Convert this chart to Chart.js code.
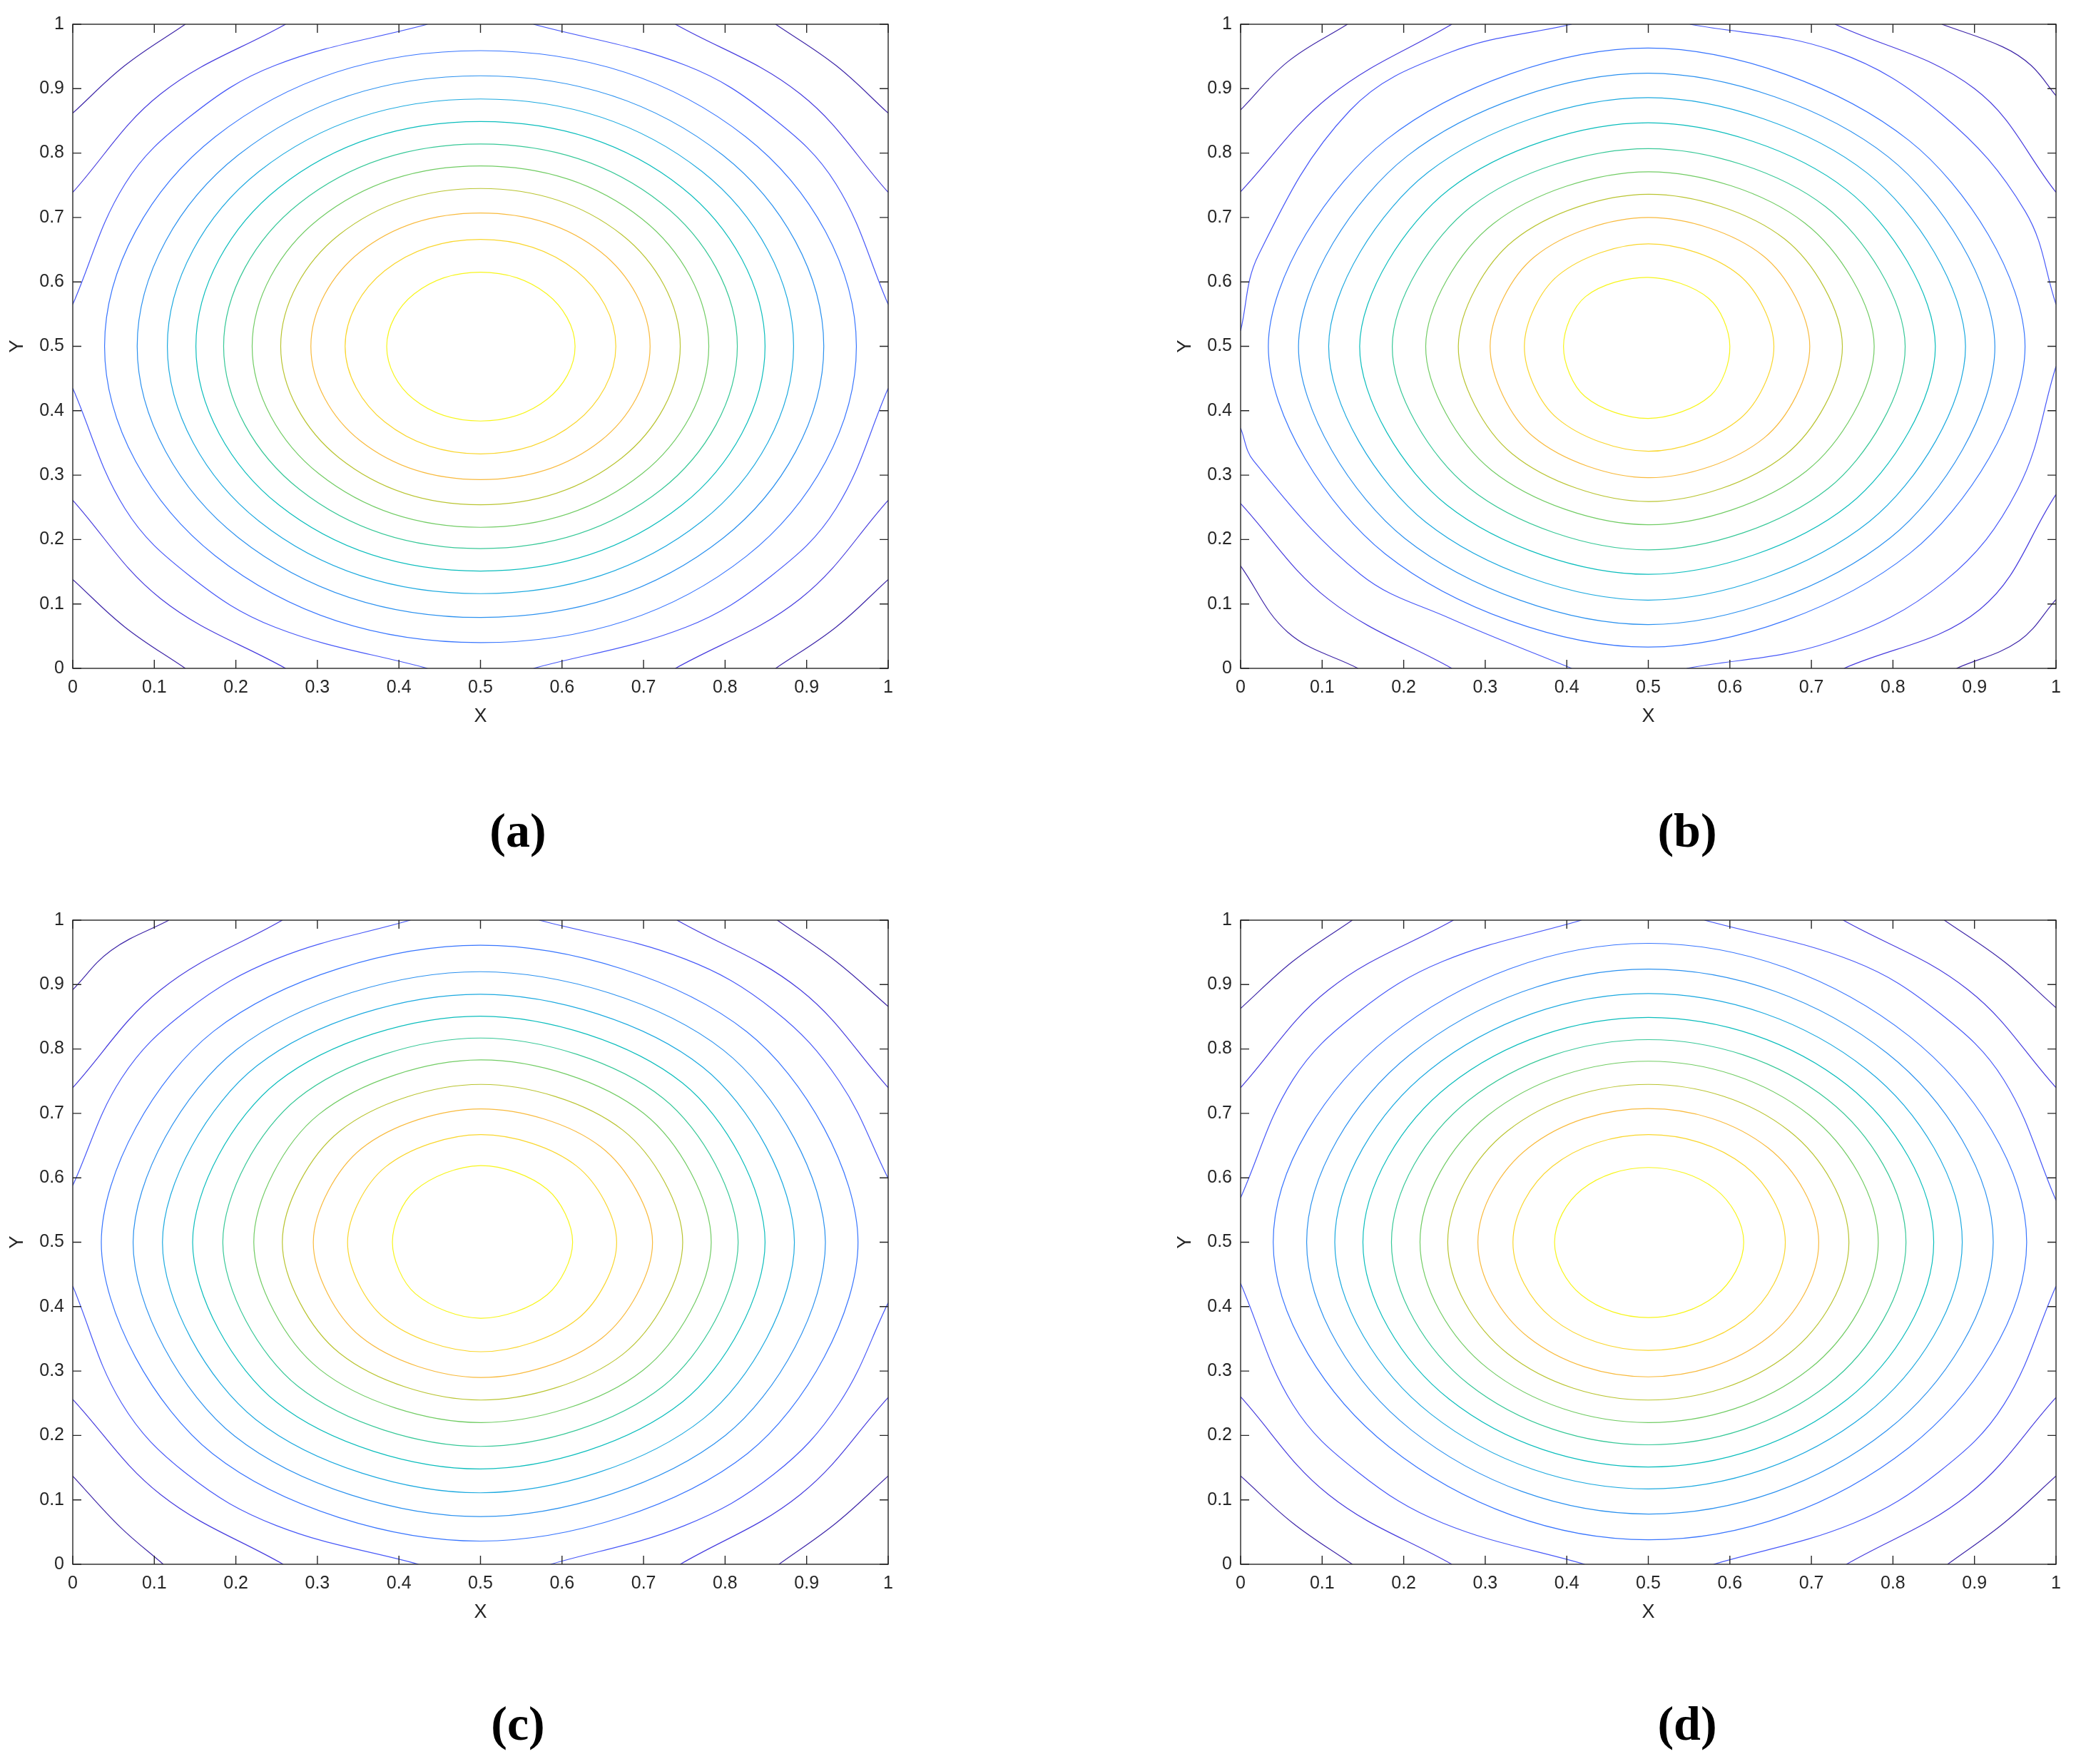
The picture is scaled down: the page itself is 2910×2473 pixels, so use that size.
<!DOCTYPE html>
<html>
<head>
<meta charset="utf-8">
<script src="https://cdn.jsdelivr.net/npm/chart.js@4.4.1/dist/chart.umd.min.js"></script>
<style>
  html, body { margin: 0; padding: 0; background: #fff; }
  body { width: 2910px; height: 2473px; position: relative; overflow: hidden; }
  canvas { position: absolute; }
  .cap { position: absolute; font-family: 'Liberation Serif', serif; font-weight: bold; font-size: 68px;
         color: #000; transform: translate(-50%, -50%); white-space: nowrap; }
</style>
</head>
<body>
<canvas id="panelA" width="1270" height="1050" style="left:0px;top:0px"></canvas>
<canvas id="panelB" width="1270" height="1050" style="left:1637px;top:0px"></canvas>
<canvas id="panelC" width="1270" height="1050" style="left:0px;top:1256px"></canvas>
<canvas id="panelD" width="1270" height="1050" style="left:1637px;top:1256px"></canvas>
<div class="cap" style="left:726px;top:1164px">(a)</div>
<div class="cap" style="left:2365px;top:1164px">(b)</div>
<div class="cap" style="left:726px;top:2416px">(c)</div>
<div class="cap" style="left:2365px;top:2416px">(d)</div>
<script>
// axis ticks (same on both axes)
const tickValues = [0, 0.1, 0.2, 0.3, 0.4, 0.5, 0.6, 0.7, 0.8, 0.9, 1];
const tickLabels = ['0', '0.1', '0.2', '0.3', '0.4', '0.5', '0.6', '0.7', '0.8', '0.9', '1'];

// closed contours: distance from (0.5, 0.5) read along these directions (degrees)
const rayAngles = [0, 45, 90, 135, 180, 225, 270, 315];

// contour level 1 (centre, highest) .. 13 (corners, lowest)
const levelColors = ['#f7f51b', '#f9d62d', '#f8ba3d', '#b9c431', '#71cc64', '#37c897', '#0bbdbc',
                     '#1ca9df', '#2b91ef', '#3875fe', '#4758f8', '#463bde', '#3e26a8'];

// (a) rings 1..10: [E, NE, N, NW, W, SW, S, SE]
const ringsA = [
  [0.116, 0.115, 0.115, 0.115, 0.115, 0.116, 0.116, 0.116],
  [0.166, 0.166, 0.166, 0.166, 0.166, 0.166, 0.167, 0.166],
  [0.208, 0.208, 0.207, 0.208, 0.208, 0.208, 0.207, 0.208],
  [0.245, 0.245, 0.245, 0.245, 0.245, 0.245, 0.246, 0.245],
  [0.280, 0.280, 0.280, 0.280, 0.280, 0.280, 0.281, 0.280],
  [0.315, 0.314, 0.314, 0.314, 0.315, 0.314, 0.314, 0.314],
  [0.349, 0.349, 0.349, 0.349, 0.349, 0.349, 0.349, 0.349],
  [0.384, 0.384, 0.384, 0.384, 0.384, 0.384, 0.384, 0.384],
  [0.421, 0.420, 0.420, 0.420, 0.421, 0.420, 0.421, 0.421],
  [0.461, 0.460, 0.459, 0.460, 0.461, 0.460, 0.460, 0.461]
];
// (a) contours cut by the frame: [level, x, y, x, y, ...]
const arcsA = [
  [11, 0, 0.565, 0.064, 0.752, 0.1435, 0.8565, 0.248, 0.936, 0.435, 1],
  [11, 0.565, 1, 0.752, 0.936, 0.8565, 0.8565, 0.936, 0.752, 1, 0.565],
  [11, 1, 0.435, 0.936, 0.248, 0.8565, 0.1435, 0.752, 0.064, 0.565, 0],
  [11, 0.435, 0, 0.248, 0.064, 0.1435, 0.1435, 0.064, 0.248, 0, 0.435],
  [12, 0, 0.739, 0.108, 0.892, 0.261, 1],
  [12, 0.739, 1, 0.892, 0.892, 1, 0.739],
  [12, 1, 0.261, 0.892, 0.108, 0.739, 0],
  [12, 0.261, 0, 0.108, 0.108, 0, 0.261],
  [13, 0, 0.862, 0.064, 0.936, 0.138, 1],
  [13, 0.862, 1, 0.936, 0.936, 1, 0.862],
  [13, 1, 0.138, 0.936, 0.064, 0.862, 0],
  [13, 0.138, 0, 0.064, 0.064, 0, 0.138]
];

// (b)
const ringsB = [
  [0.100, 0.105, 0.107, 0.109, 0.104, 0.110, 0.112, 0.108],
  [0.154, 0.157, 0.159, 0.156, 0.152, 0.158, 0.163, 0.159],
  [0.198, 0.199, 0.200, 0.197, 0.194, 0.199, 0.204, 0.201],
  [0.238, 0.236, 0.236, 0.233, 0.233, 0.236, 0.241, 0.238],
  [0.277, 0.271, 0.271, 0.269, 0.273, 0.272, 0.277, 0.274],
  [0.315, 0.307, 0.307, 0.307, 0.314, 0.311, 0.316, 0.312],
  [0.352, 0.344, 0.347, 0.345, 0.354, 0.349, 0.354, 0.348],
  [0.389, 0.380, 0.386, 0.382, 0.392, 0.386, 0.394, 0.384],
  [0.425, 0.416, 0.424, 0.418, 0.429, 0.422, 0.432, 0.420],
  [0.462, 0.452, 0.463, 0.454, 0.466, 0.456, 0.467, 0.454]
];
const arcsB = [
  [11, 0, 0.524, 0.022, 0.642, 0.134, 0.866, 0.256, 0.956, 0.406, 1],
  [11, 0.551, 1, 0.729, 0.958, 0.86, 0.86, 0.962, 0.71, 1, 0.565],
  [11, 1, 0.469, 0.953, 0.278, 0.863, 0.135, 0.723, 0.041, 0.547, 0],
  [11, 0.406, 0, 0.256, 0.078, 0.147, 0.146, 0.016, 0.322, 0, 0.373],
  [12, 0, 0.740, 0.110, 0.889, 0.259, 1],
  [12, 0.729, 1, 0.900, 0.900, 1, 0.739],
  [12, 1, 0.270, 0.907, 0.092, 0.740, 0],
  [12, 0.259, 0, 0.108, 0.107, 0, 0.256],
  [13, 0, 0.867, 0.058, 0.942, 0.131, 1],
  [13, 0.860, 1, 0.9345, 0.965, 0.9695, 0.936, 1, 0.889],
  [13, 1, 0.107, 0.955, 0.043, 0.878, 0],
  [13, 0.144, 0, 0.058, 0.056, 0, 0.159]
];

// (c)
const ringsC = [
  [0.113, 0.116, 0.119, 0.1135, 0.108, 0.113, 0.118, 0.1155],
  [0.167, 0.167, 0.167, 0.165, 0.163, 0.1665, 0.170, 0.1685],
  [0.211, 0.209, 0.207, 0.206, 0.205, 0.2075, 0.210, 0.2105],
  [0.248, 0.2465, 0.245, 0.244, 0.243, 0.244, 0.245, 0.2465],
  [0.283, 0.283, 0.283, 0.2805, 0.278, 0.279, 0.280, 0.2815],
  [0.316, 0.3165, 0.317, 0.3165, 0.316, 0.3165, 0.317, 0.3165],
  [0.349, 0.350, 0.351, 0.352, 0.353, 0.3525, 0.352, 0.3505],
  [0.385, 0.385, 0.385, 0.3875, 0.390, 0.3895, 0.389, 0.387],
  [0.423, 0.4215, 0.420, 0.423, 0.426, 0.426, 0.426, 0.4245],
  [0.463, 0.462, 0.461, 0.463, 0.465, 0.4645, 0.464, 0.4635]
];
const arcsC = [
  [11, 0, 0.588, 0.06, 0.755, 0.14, 0.86, 0.25, 0.94, 0.414, 1],
  [11, 0.572, 1, 0.75, 0.94, 0.86, 0.86, 0.94, 0.75, 1, 0.599],
  [11, 1, 0.406, 0.94, 0.25, 0.86, 0.14, 0.75, 0.06, 0.586, 0],
  [11, 0.424, 0, 0.25, 0.06, 0.14, 0.14, 0.06, 0.25, 0, 0.432],
  [12, 0, 0.740, 0.108, 0.892, 0.257, 1],
  [12, 0.741, 1, 0.892, 0.892, 1, 0.740],
  [12, 1, 0.259, 0.892, 0.108, 0.745, 0],
  [12, 0.258, 0, 0.108, 0.108, 0, 0.256],
  [13, 0, 0.892, 0.047, 0.953, 0.118, 1],
  [13, 0.864, 1, 0.936, 0.936, 1, 0.866],
  [13, 1, 0.137, 0.936, 0.064, 0.866, 0],
  [13, 0.111, 0, 0.058, 0.058, 0, 0.137]
];

// (d)
const ringsD = [
  [0.117, 0.1165, 0.116, 0.1155, 0.115, 0.116, 0.117, 0.117],
  [0.168, 0.1675, 0.167, 0.1665, 0.166, 0.167, 0.168, 0.168],
  [0.209, 0.2074, 0.2075, 0.2076, 0.209, 0.2084, 0.209, 0.2084],
  [0.246, 0.2443, 0.245, 0.2443, 0.246, 0.2443, 0.245, 0.2443],
  [0.282, 0.2792, 0.281, 0.2783, 0.280, 0.2778, 0.280, 0.2788],
  [0.316, 0.3121, 0.3145, 0.3116, 0.315, 0.3116, 0.3145, 0.3121],
  [0.350, 0.345, 0.349, 0.345, 0.350, 0.345, 0.349, 0.345],
  [0.385, 0.379, 0.386, 0.3787, 0.3845, 0.3772, 0.383, 0.3775],
  [0.423, 0.4146, 0.424, 0.4126, 0.419, 0.4117, 0.422, 0.4136],
  [0.464, 0.4524, 0.464, 0.4505, 0.460, 0.4495, 0.462, 0.4514]
];
const arcsD = [
  [11, 0, 0.569, 0.064, 0.752, 0.1435, 0.8565, 0.248, 0.936, 0.418, 1],
  [11, 0.569, 1, 0.752, 0.936, 0.8565, 0.8565, 0.936, 0.752, 1, 0.565],
  [11, 1, 0.432, 0.936, 0.248, 0.8565, 0.1435, 0.752, 0.064, 0.58, 0],
  [11, 0.422, 0, 0.248, 0.064, 0.1435, 0.1435, 0.064, 0.248, 0, 0.436],
  [12, 0, 0.740, 0.108, 0.892, 0.261, 1],
  [12, 0.739, 1, 0.892, 0.892, 1, 0.740],
  [12, 1, 0.259, 0.892, 0.108, 0.743, 0],
  [12, 0.259, 0, 0.108, 0.108, 0, 0.260],
  [13, 0, 0.863, 0.064, 0.936, 0.137, 1],
  [13, 0.863, 1, 0.936, 0.936, 1, 0.864],
  [13, 1, 0.137, 0.936, 0.064, 0.867, 0],
  [13, 0.137, 0, 0.064, 0.064, 0, 0.137]
];

function ringPoints(radii) {
  return radii.map((r, i) => {
    const a = rayAngles[i] * Math.PI / 180;
    return { x: 0.5 + r * Math.cos(a), y: 0.5 + r * Math.sin(a) };
  });
}

function arcPoints(arc) {
  const pts = [];
  for (let i = 1; i < arc.length; i += 2) pts.push({ x: arc[i], y: arc[i + 1] });
  return pts;
}

// lets a line dataset join its last point back to the first one smoothly
const closeRings = {
  id: 'closeRings',
  afterDatasetsUpdate(chart) {
    chart.data.datasets.forEach((ds, i) => {
      if (!ds.closed) return;
      const line = chart.getDatasetMeta(i).dataset;
      if (!line) return;
      line._loop = true;
      line._fullLoop = true;
      line._pointsUpdated = false;
      line._segments = undefined;
      line._path = undefined;
      line.updateControlPoints(chart.chartArea, 'x');
    });
  }
};

// Octave style frame: box on all four sides, ticks pointing inwards
const octaveBox = {
  id: 'octaveBox',
  afterDraw(chart) {
    const { ctx, chartArea: a } = chart;
    const x = chart.scales.x, y = chart.scales.y;
    ctx.save();
    ctx.strokeStyle = '#262626';
    ctx.lineWidth = 1.4;
    ctx.strokeRect(a.left, a.top, a.right - a.left, a.bottom - a.top);
    ctx.beginPath();
    tickValues.forEach(v => {
      const px = x.getPixelForValue(v);
      const py = y.getPixelForValue(v);
      ctx.moveTo(px, a.bottom); ctx.lineTo(px, a.bottom - 12);
      ctx.moveTo(px, a.top); ctx.lineTo(px, a.top + 12);
      ctx.moveTo(a.left, py); ctx.lineTo(a.left + 12, py);
      ctx.moveTo(a.right, py); ctx.lineTo(a.right - 12, py);
    });
    ctx.stroke();
    ctx.restore();
  }
};

function axis(title, pos) {
  const bottom = pos === 'bottom';
  return {
    type: 'linear',
    position: pos,
    min: 0,
    max: 1,
    afterBuildTicks: s => { s.ticks = tickValues.map(v => ({ value: v })); },
    afterFit: s => { if (bottom) s.height = 90; else s.width = 102; },
    ticks: {
      color: '#262626',
      font: { family: 'Liberation Sans', size: 25 },
      padding: 12,
      maxRotation: 0,
      autoSkip: false,
      callback: (v, i) => tickLabels[i]
    },
    grid: { display: false, drawTicks: false },
    border: { display: false },
    title: {
      display: true,
      text: title,
      color: '#262626',
      font: { family: 'Liberation Sans', size: 27 },
      padding: bottom ? { top: 0, bottom: 6 } : { top: 8, bottom: 0 }
    }
  };
}

function drawPanel(id, rings, arcs, ringTension) {
  const datasets = [];
  rings.forEach((radii, k) => {
    datasets.push({
      data: ringPoints(radii),
      closed: true,
      borderColor: levelColors[k],
      borderWidth: 1.2,
      tension: ringTension,
      pointRadius: 0
    });
  });
  arcs.forEach(arc => {
    datasets.push({
      data: arcPoints(arc),
      borderColor: levelColors[arc[0] - 1],
      borderWidth: 1.2,
      tension: 0.38,
      pointRadius: 0
    });
  });

  new Chart(document.getElementById(id), {
    type: 'line',
    data: { datasets },
    options: {
      responsive: false,
      animation: false,
      devicePixelRatio: 1,
      events: [],
      layout: { padding: { left: 0, top: 34, right: 25, bottom: 23 } },
      scales: { x: axis('X', 'bottom'), y: axis('Y', 'left') },
      plugins: { legend: { display: false }, tooltip: { enabled: false } }
    },
    plugins: [closeRings, octaveBox]
  });
}

drawPanel('panelA', ringsA, arcsA, 0.375);
drawPanel('panelB', ringsB, arcsB, 0.33);
drawPanel('panelC', ringsC, arcsC, 0.33);
drawPanel('panelD', ringsD, arcsD, 0.36);
</script>
</body>
</html>
